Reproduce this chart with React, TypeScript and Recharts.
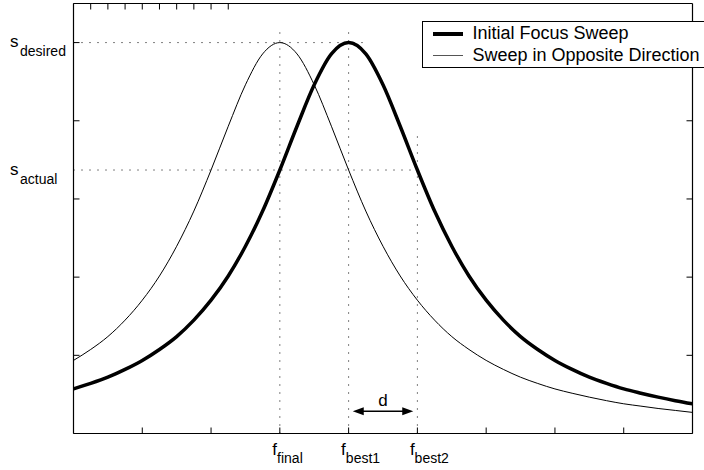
import { Legend, Line, LineChart, ReferenceLine, XAxis, YAxis } from "recharts";

// focus position (lens steps)
const fPos = [
  0, 0.25, 0.5, 0.75, 1, 1.25, 1.5, 1.75, 2, 2.25, 2.5, 2.75, 3, 3.25, 3.5, 3.75, 4, 4.25,
  4.5, 4.75, 5, 5.25, 5.5, 5.75, 6, 6.25, 6.5, 6.75, 7, 7.25, 7.5, 7.75, 8, 8.25, 8.5, 8.75, 9,
];

// sharpness, first sweep (peaks at f_best1)
const initialSweep = [
  0.114, 0.128, 0.144, 0.164, 0.187, 0.215, 0.248, 0.29, 0.341, 0.403, 0.479, 0.569, 0.674,
  0.786, 0.892, 0.971, 1.0, 0.971, 0.892, 0.786, 0.674, 0.569, 0.479, 0.403, 0.341, 0.29,
  0.248, 0.215, 0.187, 0.164, 0.144, 0.128, 0.114, 0.103, 0.093, 0.084, 0.076,
];

// sharpness, sweep back the other way (peaks at f_final)
const oppositeSweep = [
  0.187, 0.215, 0.248, 0.29, 0.341, 0.403, 0.479, 0.569, 0.674, 0.786, 0.892, 0.971, 1.0,
  0.971, 0.892, 0.786, 0.674, 0.569, 0.479, 0.403, 0.341, 0.29, 0.248, 0.215, 0.187, 0.164,
  0.144, 0.128, 0.114, 0.103, 0.093, 0.084, 0.076, 0.07, 0.064, 0.059, 0.054,
];

const xTicks = [0, 1, 2, 3, 4, 5, 6, 7, 8, 9];
const yTicks = [0.2, 0.4, 0.6, 0.8, 1.0];

const S_DESIRED = 1.0;
const S_ACTUAL = 0.674;
const F_FINAL = 3;
const F_BEST1 = 4;
const F_BEST2 = 5;
const GUIDE_TOP = 1.04;
const GUIDE_BEST2_TOP = 0.77;
const D_ARROW = [4.06, 4.94];
const D_LEVEL = 0.057;

const data = fPos.map((f, i) => ({
  f,
  initial: initialSweep[i],
  opposite: oppositeSweep[i],
}));

const FONT = '"Liberation Sans", Arial, Helvetica, sans-serif';
const DOTS = "1 7";
const TICK_IN = -6; // negative size puts the tick marks inside the box

// tick marks only, no numbers
const NoTickText = () => <g />;

// label like s_{desired} to the left of a horizontal guide
function SLabel(props: any) {
  const vb = props.viewBox || {};
  return (
    <text x={vb.x - 63.5} y={vb.y + 4.5} fontSize={17} fontFamily={FONT} fill="#000">
      {props.main}
      <tspan dy={9} dx={1.5} fontSize={14}>
        {props.sub}
      </tspan>
    </text>
  );
}

// label like f_{final} below the axis at a vertical guide
function FLabel(props: any) {
  const vb = props.viewBox || {};
  const bottom = vb.y + (vb.height || 0);
  return (
    <text x={vb.x - 7.5} y={bottom + 21} fontSize={17} fontFamily={FONT} fill="#000">
      {props.main}
      <tspan dy={8} fontSize={14}>
        {props.sub}
      </tspan>
    </text>
  );
}

function DoubleArrow(props: any) {
  const { x1, y1, x2 } = props;
  const len = 11;
  const half = 4;
  return (
    <g>
      <line x1={x1 + 4} y1={y1} x2={x2 - 4} y2={y1} stroke="#000" strokeWidth={1.5} />
      <polygon points={`${x1},${y1} ${x1 + len},${y1 - half} ${x1 + len},${y1 + half}`} fill="#000" />
      <polygon points={`${x2},${y1} ${x2 - len},${y1 - half} ${x2 - len},${y1 + half}`} fill="#000" />
    </g>
  );
}

function SweepLegend() {
  const row = { display: "flex", alignItems: "center", height: 21.5, whiteSpace: "nowrap" as const };
  const sample = { width: 30, marginLeft: 9.5, marginRight: 10, background: "#000" };
  return (
    <div
      style={{
        border: "1.5px solid #000",
        background: "#fff",
        width: 300,
        padding: "1px 0",
        fontFamily: FONT,
        fontSize: 18,
        color: "#000",
      }}
    >
      <div style={row}>
        <div style={{ ...sample, height: 4 }} />
        <span>Initial Focus Sweep</span>
      </div>
      <div style={row}>
        <div style={{ ...sample, height: 1, background: "#555" }} />
        <span>Sweep in Opposite Direction</span>
      </div>
    </div>
  );
}

export default function App() {
  const axisCommon = {
    type: "number" as const,
    tick: NoTickText,
    tickSize: TICK_IN,
    tickLine: { stroke: "#000", strokeWidth: 1 },
    axisLine: { stroke: "#000", strokeWidth: 1.2 },
    stroke: "#000",
    allowDataOverflow: true,
  };
  return (
    <div
      style={{
        position: "absolute",
        left: 0,
        top: 0,
        width: 704,
        height: 470,
        overflow: "hidden",
        background: "#fff",
      }}
    >
      <LineChart
        width={704}
        height={470}
        data={data}
        margin={{ top: 2.5, right: 10.5, bottom: 35.5, left: 72.5 }}
      >
        <XAxis xAxisId="b" dataKey="f" domain={[0, 9]} ticks={xTicks} height={1} {...axisCommon} />
        <XAxis xAxisId="t" orientation="top" domain={[0, 9]} ticks={xTicks} height={1} {...axisCommon} />
        <YAxis yAxisId="l" domain={[0, 1.1]} ticks={yTicks} width={1} {...axisCommon} />
        <YAxis yAxisId="r" orientation="right" domain={[0, 1.1]} ticks={yTicks} width={1} {...axisCommon} />

        {/* dotted guides */}
        <ReferenceLine
          xAxisId="b"
          yAxisId="l"
          segment={[
            { x: 0, y: S_DESIRED },
            { x: 4.26, y: S_DESIRED },
          ]}
          stroke="#000"
          strokeDasharray={DOTS}
          label={<SLabel main="s" sub="desired" />}
        />
        <ReferenceLine
          xAxisId="b"
          yAxisId="l"
          segment={[
            { x: 0, y: S_ACTUAL },
            { x: 5.1, y: S_ACTUAL },
          ]}
          stroke="#000"
          strokeDasharray={DOTS}
          label={<SLabel main="s" sub="actual" />}
        />
        <ReferenceLine
          xAxisId="b"
          yAxisId="l"
          segment={[
            { x: F_FINAL, y: 0 },
            { x: F_FINAL, y: GUIDE_TOP },
          ]}
          stroke="#000"
          strokeDasharray={DOTS}
          label={<FLabel main="f" sub="final" />}
        />
        <ReferenceLine
          xAxisId="b"
          yAxisId="l"
          segment={[
            { x: F_BEST1, y: 0 },
            { x: F_BEST1, y: GUIDE_TOP },
          ]}
          stroke="#000"
          strokeDasharray={DOTS}
          label={<FLabel main="f" sub="best1" />}
        />
        <ReferenceLine
          xAxisId="b"
          yAxisId="l"
          segment={[
            { x: F_BEST2, y: 0 },
            { x: F_BEST2, y: GUIDE_BEST2_TOP },
          ]}
          stroke="#000"
          strokeDasharray={DOTS}
          label={<FLabel main="f" sub="best2" />}
        />

        <Line
          xAxisId="b"
          yAxisId="l"
          type="monotone"
          dataKey="opposite"
          name="Sweep in Opposite Direction"
          stroke="#000"
          strokeWidth={1}
          dot={false}
          activeDot={false}
          isAnimationActive={false}
        />
        <Line
          xAxisId="b"
          yAxisId="l"
          type="monotone"
          dataKey="initial"
          name="Initial Focus Sweep"
          stroke="#000"
          strokeWidth={3.5}
          dot={false}
          activeDot={false}
          isAnimationActive={false}
        />

        {/* distance d between the two best positions */}
        <ReferenceLine
          xAxisId="b"
          yAxisId="l"
          segment={[
            { x: D_ARROW[0], y: D_LEVEL },
            { x: D_ARROW[1], y: D_LEVEL },
          ]}
          shape={DoubleArrow}
          label={{ value: "d", position: "top", offset: 5, fontSize: 17, fontFamily: FONT, fill: "#000" }}
        />

        <Legend
          layout="horizontal"
          verticalAlign="middle"
          align="center"
          content={<SweepLegend />}
          wrapperStyle={{ left: 422, top: 21, width: "auto", height: "auto" }}
        />
      </LineChart>
    </div>
  );
}
